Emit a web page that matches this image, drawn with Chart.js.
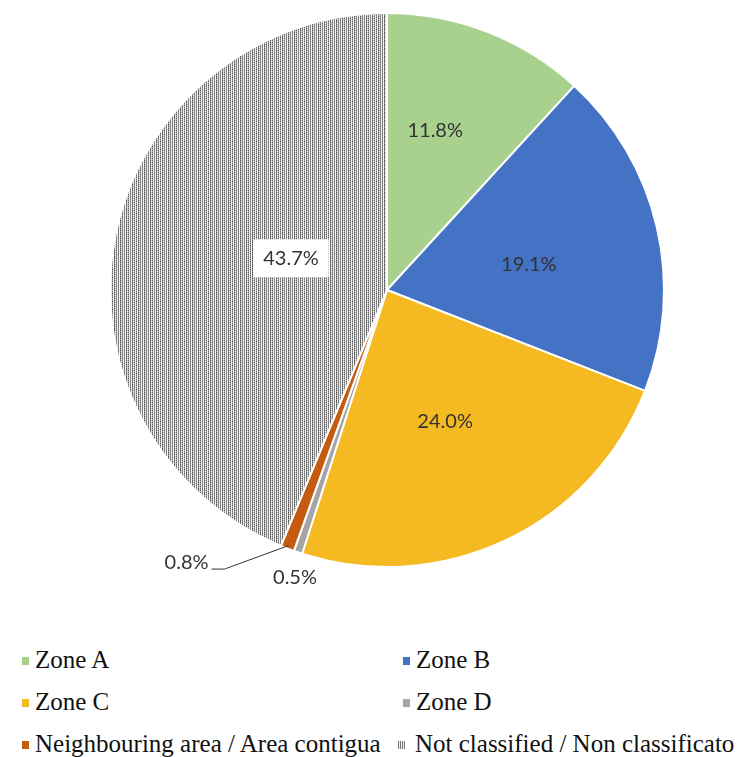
<!DOCTYPE html>
<html>
<head>
<meta charset="utf-8">
<script src="https://cdn.jsdelivr.net/npm/chart.js@4.4.1/dist/chart.umd.min.js"></script>
<style>
  html, body { margin: 0; padding: 0; background: #fff; }
  body { width: 741px; height: 757px; overflow: hidden; position: relative; }
  #wrap { position: absolute; left: 0; top: 0; width: 741px; height: 610px; }
  #legend { position: absolute; left: 0; top: 640px; width: 741px; font-family: "Liberation Serif", "Times New Roman", serif; font-size: 25px; color: #111; }
  .item { position: absolute; white-space: nowrap; line-height: 30px; }
  .sw { position: absolute; top: 12px; width: 7px; height: 8px; }
</style>
</head>
<body>
<div id="wrap"><canvas id="pie"></canvas></div>
<div id="legend"></div>
<script>
// data
const categories = ['Zone A', 'Zone B', 'Zone C', 'Zone D', 'Neighbouring area / Area contigua', 'Not classified / Non classificato'];
const shares = [11.8, 19.1, 24.0, 0.5, 0.8, 43.7];
const valueLabels = ['11.8%', '19.1%', '24.0%', '0.5%', '0.8%', '43.7%'];

const colours = ['#A9D18E', '#4472C4', '#F5B921', '#A5A5A5', '#C55A11', null];

// label placement: fraction of radius and angle shift (degrees)
const labelRadius = [0.6, 0.52, 0.52, 1.09, 1.22, 0.365];
const labelShift = [-4.4, 3, 1.6, -1, 15.3, 7];

function makePattern() {
    const c = document.createElement('canvas');
    c.width = 6; c.height = 4;
    const g = c.getContext('2d');
    const cols = [
        ['#4e4e4e', '#7a7a7a', '#5c5c5c', '#909090'],
        ['#d4d4d4', '#eeeeee', '#c8c8c8', '#e4e4e4'],
        ['#6e6e6e', '#a0a0a0', '#555555', '#a8a8a8'],
        ['#f8f8f8', '#e0e0e0', '#ffffff', '#d8d8d8'],
        ['#8a8a8a', '#666666', '#9c9c9c', '#707070'],
        ['#ffffff', '#f2f2f2', '#e8e8e8', '#ffffff']
    ];
    for (let x = 0; x < 6; x++) {
        for (let y = 0; y < 4; y++) {
            g.fillStyle = cols[x][y];
            g.fillRect(x, y, 1, 1);
        }
    }
    return g.createPattern(c, 'repeat');
}

const ctx = document.getElementById('pie').getContext('2d');
const pattern = makePattern();
const fills = colours.map(c => c || pattern);

const labelPlugin = {
    id: 'pieLabels',
    afterDatasetsDraw(chart) {
        const g = chart.ctx;
        const arcs = chart.getDatasetMeta(0).data;
        g.save();
        g.font = '20px Lato, "Open Sans", sans-serif';
        g.textBaseline = 'middle';
        arcs.forEach((arc, i) => {
            const p = arc.getProps(['x', 'y', 'startAngle', 'endAngle', 'outerRadius'], true);
            const mid = (p.startAngle + p.endAngle) / 2;
            const a = mid + labelShift[i] * Math.PI / 180;
            const r = p.outerRadius * labelRadius[i];
            const lx = p.x + Math.cos(a) * r;
            const ly = p.y + Math.sin(a) * r;
            const text = valueLabels[i];
            const w = g.measureText(text).width;
            if (i === 5) {
                g.fillStyle = '#ffffff';
                g.fillRect(lx - w / 2 - 10, ly - 19, w + 20, 38);
            }
            g.fillStyle = '#333333';
            if (i === 4) {
                g.textAlign = 'right';
                g.fillText(text, lx + w / 2, ly);
                const ex = p.x + Math.cos(mid) * (p.outerRadius - 3);
                const ey = p.y + Math.sin(mid) * (p.outerRadius - 3);
                g.strokeStyle = '#333333';
                g.lineWidth = 1;
                g.beginPath();
                g.moveTo(lx + w / 2 + 3, ly + 7);
                g.lineTo(lx + w / 2 + 16, ly + 7);
                g.lineTo(ex, ey);
                g.stroke();
            } else {
                g.textAlign = 'center';
                g.fillText(text, lx, ly);
            }
        });
        g.restore();
    }
};

const chart = new Chart(ctx, {
    type: 'pie',
    data: {
        labels: categories,
        datasets: [{
            data: shares,
            backgroundColor: fills,
            borderColor: '#ffffff',
            borderWidth: 2
        }]
    },
    options: {
        responsive: true,
        maintainAspectRatio: false,
        animation: false,
        layout: { padding: { left: 33, right: 0, top: 12, bottom: 42 } },
        plugins: {
            legend: { display: false },
            tooltip: { enabled: false }
        }
    },
    plugins: [labelPlugin]
});

// legend built from the same arrays
const legend = document.getElementById('legend');
const slots = [[22, 5], [403, 5], [22, 47], [403, 47], [22, 89], [398, 89]];
categories.forEach((name, i) => {
    const item = document.createElement('div');
    item.className = 'item';
    item.style.left = slots[i][0] + 'px';
    item.style.top = slots[i][1] + 'px';
    item.style.paddingLeft = (i === 5 ? 17 : 13) + 'px';
    const sw = document.createElement('span');
    sw.className = 'sw';
    sw.style.left = '0px';
    if (colours[i]) {
        sw.style.background = colours[i];
    } else {
        sw.style.background = 'repeating-linear-gradient(90deg, #777 0 1px, #eee 1px 2px)';
    }
    item.appendChild(sw);
    item.appendChild(document.createTextNode(name));
    legend.appendChild(item);
});
</script>
</body>
</html>
